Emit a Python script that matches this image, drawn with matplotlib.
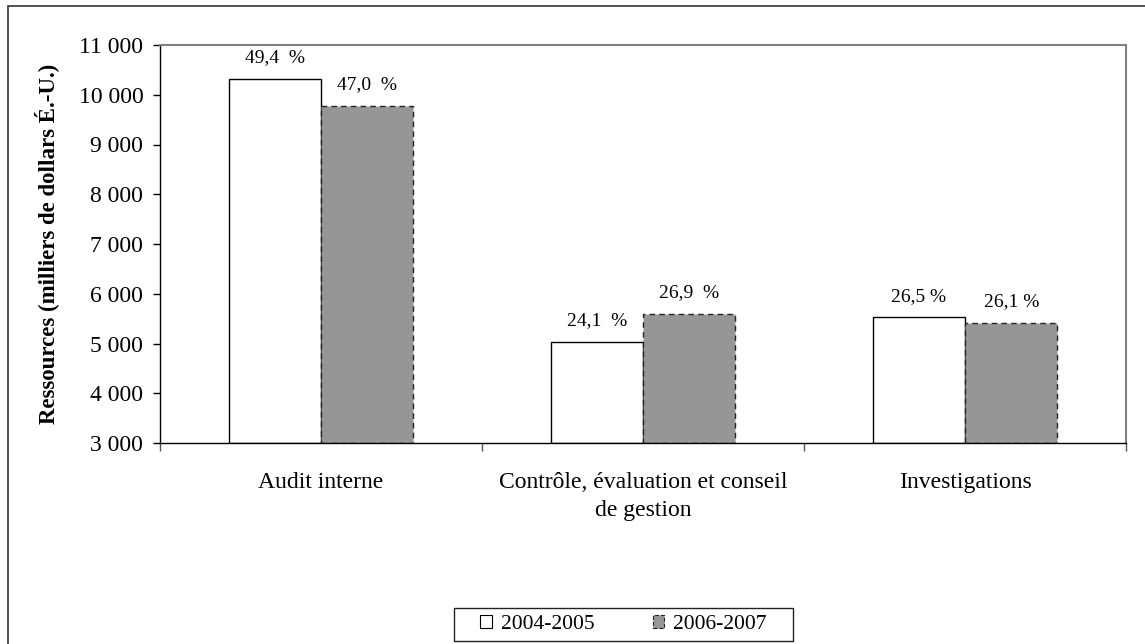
import numpy as np
import matplotlib.pyplot as plt
from matplotlib.patches import Rectangle, Patch
from matplotlib.ticker import FuncFormatter, FixedLocator

plt.rcParams['font.family'] = ['Liberation Serif', 'DejaVu Serif']

categories = ['Audit interne', 'Contrôle, évaluation et conseil\nde gestion', 'Investigations']
series_names = ['2004-2005', '2006-2007']
res_2004 = [10317, 5030, 5527]
res_2006 = [9775, 5594, 5420]
pct_2004 = ['49,4  %', '24,1  %', '26,5 %']
pct_2006 = ['47,0  %', '26,9  %', '26,1 %']

W, H = 1145, 644
fig = plt.figure(figsize=(W / 100, H / 100), dpi=100)
ax = fig.add_axes([160 / W, 1 - 443 / H, (1126 - 160) / W, (443 - 45) / H])

x = np.arange(len(categories))
w = 0.287
b1 = ax.bar(x - w / 2, np.array(res_2004) - 3000, w, bottom=3000,
            color='white', edgecolor='black', linewidth=1.0)
b2 = ax.bar(x + w / 2, np.array(res_2006) - 3000, w, bottom=3000,
            color='#969696', edgecolor='#222222', linewidth=1.0, linestyle=(0, (4, 3)))

for bars, labels in ((b1, pct_2004), (b2, pct_2006)):
    for r, lab in zip(bars, labels):
        ax.annotate(lab, (r.get_x() + r.get_width() / 2, r.get_y() + r.get_height()),
                    xytext=(0, 12), textcoords='offset points',
                    ha='center', va='baseline', fontsize=14)

ax.set_xlim(-0.5, 2.5)
ax.set_ylim(3000, 11000)
ax.set_yticks(np.arange(3000, 11001, 1000))
ax.yaxis.set_major_formatter(FuncFormatter(lambda v, p: f'{int(v):,}'.replace(',', ' ')))
ax.tick_params(axis='y', direction='out', length=5, width=1, labelsize=17, pad=7)

# ticks at the category boundaries, names centred between them
ax.xaxis.set_major_locator(FixedLocator([-0.5, 0.5, 1.5, 2.5]))
ax.xaxis.set_major_formatter(FuncFormatter(lambda v, p: ''))
ax.xaxis.set_minor_locator(FixedLocator(x))
ax.set_xticklabels(categories, minor=True, fontsize=17, linespacing=1.4)
ax.tick_params(axis='x', which='major', direction='out', length=6, width=1, color='#555555')
ax.tick_params(axis='x', which='minor', length=0, pad=21)

ax.set_ylabel('Ressources (milliers de dollars É.-U.)', fontsize=16.5, fontweight='bold', labelpad=14)

for s in ('top', 'right'):
    ax.spines[s].set_color('#808080')
    ax.spines[s].set_linewidth(1.5)
for s in ('left', 'bottom'):
    ax.spines[s].set_color('black')
    ax.spines[s].set_linewidth(1.0)

handles = [Patch(facecolor='white', edgecolor='black', linewidth=0.8),
           Patch(facecolor='#969696', edgecolor='#222222', linewidth=0.8, linestyle='--')]
fig.legend(handles, series_names, loc='center', bbox_to_anchor=(623.5 / W, 1 - 624.5 / H),
           ncol=2, fontsize=15.5, frameon=False, handlelength=0.55, handleheight=0.6,
           handletextpad=0.4, columnspacing=2.7, borderpad=0.2)
fig.patches.append(Rectangle((454 / W, 1 - 641 / H), (793 - 454) / W, 33 / H, transform=fig.transFigure,
                             fill=False, edgecolor='#222222', linewidth=1.0))

# outer frame
fig.patches.append(Rectangle((7.5 / W, -0.01), 1.05, 1 - 5.5 / H + 0.01, transform=fig.transFigure,
                             fill=False, edgecolor='#333333', linewidth=1.2))

fig.savefig('out.png', dpi=100)
